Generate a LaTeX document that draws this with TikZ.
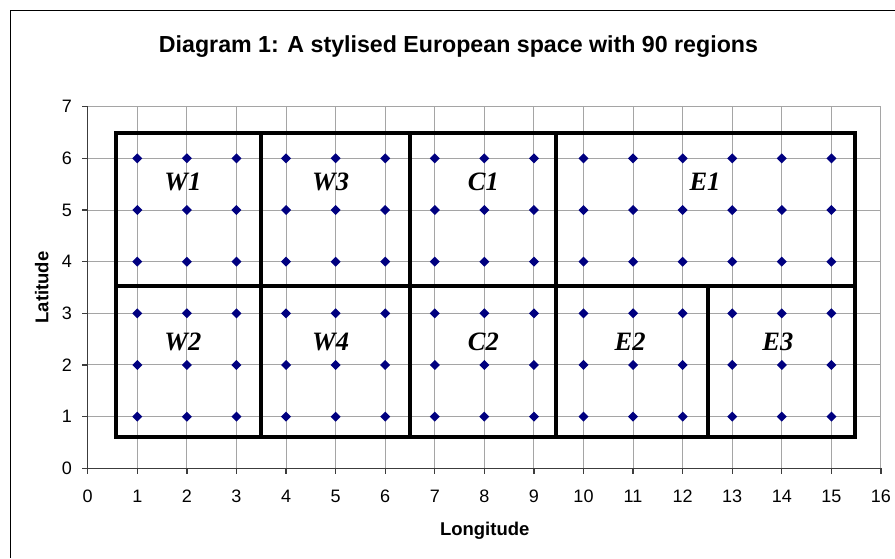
\documentclass[tikz,border=0pt]{standalone}
\usepackage{fontspec}
\setmainfont{Liberation Serif}
\setsansfont{Liberation Sans}
\definecolor{pointblue}{RGB}{0,0,128}
\definecolor{gridgray}{RGB}{165,165,165}
\definecolor{axisgray}{RGB}{60,60,60}
\tikzset{
  gridline/.style={draw=gridgray, line width=1pt},
  axisline/.style={draw=axisgray, line width=1.3pt},
  regionline/.style={draw=black, line width=4pt, line join=miter},
  ticklabel/.style={font=\sffamily\fontsize{18}{20}\selectfont, inner sep=0pt},
  axistitle/.style={font=\sffamily\bfseries\fontsize{18.5}{21}\selectfont, inner sep=0pt},
  regionlabel/.style={font=\rmfamily\bfseries\itshape\fontsize{26.5}{30}\selectfont, inner sep=0pt},
  charttitle/.style={font=\sffamily\bfseries\fontsize{23.2}{26}\selectfont, inner sep=0pt},
}
\begin{document}
\begin{tikzpicture}[x=1pt,y=-1pt]
\useasboundingbox (0,0) rectangle (895,558);
\fill[white] (0,0) rectangle (895,558);
% chart frame
\draw[black, line width=1pt] (10,558) -- (10,10) -- (895,10);
% title and axis titles
\node[charttitle, anchor=base] (title) at (458.5,52.5) {Diagram 1: A stylised European space with 90 regions};
\node[axistitle, rotate=90] (ylab) at (41.7,287.5) {Latitude};
\node[axistitle, anchor=base] (xlab) at (484.7,535) {Longitude};
% plot area in data units
\begin{scope}[shift={(87.7,468.3)}, x=49.58pt, y=51.66pt]
  \foreach \i in {1,...,16} \draw[gridline] (\i,0) -- (\i,7);
  \foreach \j in {1,...,7} \draw[gridline] (0,\j) -- (16,\j);
  \draw[axisline] (0,7) -- (0,0) -- (16,0);
  \foreach \i in {0,...,16} {
    \draw[axisline] (\i,0) -- ++(0pt,-6pt);
    \node[ticklabel, anchor=base] (xt\i) at ([yshift=-34.2pt]\i,0) {\i};
  }
  \foreach \j in {0,...,7} {
    \draw[axisline] (0,\j) -- ++(-6pt,0pt);
    \node[ticklabel, anchor=east] (yt\j) at ([xshift=-15.7pt]0,\j) {\j};
  }
  % the 90 regions
  \foreach \i in {1,...,15} \foreach \j in {1,...,6}
    \fill[pointblue] (\i,\j) ++(5pt,0pt) -- ++(-5pt,5pt) -- ++(-5pt,-5pt) -- ++(5pt,-5pt) -- cycle;
  % macro-region boundaries
  \draw[regionline] (0.57,0.60) rectangle (15.48,6.49);
  \draw[regionline] (0.57,3.535) -- (15.48,3.535);
  \draw[regionline] (3.49,0.60) -- (3.49,6.49);
  \draw[regionline] (6.50,0.60) -- (6.50,6.49);
  \draw[regionline] (9.445,0.60) -- (9.445,6.49);
  \draw[regionline] (12.515,0.60) -- (12.515,3.535);
  % macro-region labels
  \node[regionlabel] (W1) at (1.92,5.548) {W1};
  \node[regionlabel] (W3) at (4.90,5.548) {W3};
  \node[regionlabel] (C1) at (7.98,5.548) {C1};
  \node[regionlabel] (E1) at (12.45,5.548) {E1};
  \node[regionlabel] (W2) at (1.92,2.445) {W2};
  \node[regionlabel] (W4) at (4.90,2.445) {W4};
  \node[regionlabel] (C2) at (7.98,2.445) {C2};
  \node[regionlabel] (E2) at (10.94,2.445) {E2};
  \node[regionlabel] (E3) at (13.92,2.445) {E3};
\end{scope}
\end{tikzpicture}
\end{document}
